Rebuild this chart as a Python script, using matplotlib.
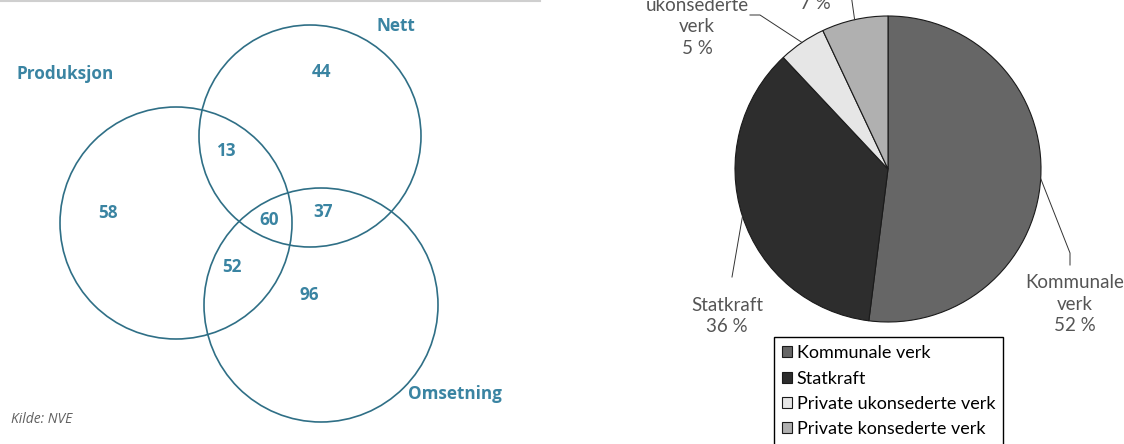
import numpy as np
import matplotlib
matplotlib.use("Agg")
import matplotlib.pyplot as plt
from matplotlib.patches import Circle

# Venn: antall selskaper per kombinasjon av virksomhet
sets = ["Produksjon", "Nett", "Omsetning"]
region_names = ["Produksjon", "Nett", "Omsetning", "Prod+Nett", "Nett+Oms", "Prod+Oms", "Alle"]
region_counts = [58, 44, 96, 13, 37, 52, 60]

# Pie: eierandeler
owners = ["Kommunale verk", "Statkraft", "Private ukonsederte verk", "Private konsederte verk"]
shares = [52, 36, 5, 7]
pie_labels = ["Kommunale\nverk", "Statkraft", "Private\nukonsederte\nverk", "Private\nkonsederte\nverk"]
pie_colors = ["#666666", "#2d2d2d", "#e6e6e6", "#b0b0b0"]

W, H = 1124, 444


def Y(py):
    # pikselkoordinat (fra toppen) -> data-y
    return H - py


fig = plt.figure(figsize=(W / 100, H / 100), dpi=100)
ax = fig.add_axes([0, 0, 1, 1])

# ---------------- Venn ----------------
circle_col = "#2f6f86"
text_col = "#3a84a2"
circles = {"Produksjon": (176, 223, 116), "Nett": (310, 136, 111), "Omsetning": (321, 305, 117)}
for name in sets:
    cx, cy, r = circles[name]
    ax.add_patch(Circle((cx, Y(cy)), r, fill=False, ec=circle_col, lw=1.2))

set_label_pos = {"Produksjon": (16, 74, "left"), "Nett": (377, 26, "left"), "Omsetning": (408, 394, "left")}
for name in sets:
    x, y, ha = set_label_pos[name]
    ax.text(x, Y(y), name, ha=ha, va="center", color=text_col,
            fontsize=12.3, fontweight="bold", family="Open Sans")

region_pos = [(108, 213), (321, 72), (309, 295), (226, 151), (323, 212), (232, 267), (269, 220)]
for cnt, (x, y) in zip(region_counts, region_pos):
    ax.text(x, Y(y), str(cnt), ha="center", va="center", color=text_col,
            fontsize=12.3, fontweight="bold", family="Open Sans")

ax.text(11, Y(419), "Kilde: NVE", ha="left", va="center", color="#606060",
        fontsize=10, style="italic", family="Open Sans")
ax.plot([0, 540], [Y(1), Y(1)], color="#cfcfcf", lw=1.5)

# ---------------- Pie ----------------
pcx, pcy, pr = 888, 169, 153
wedges, _ = ax.pie(shares, colors=pie_colors, startangle=90, counterclock=False,
                   center=(pcx, Y(pcy)), radius=pr,
                   wedgeprops=dict(edgecolor="#1a1a1a", linewidth=0.8))

# label-oppsett: knekkpunkter for ledelinjer og tekstposisjon (piksler)
leader_pts = [
    [(1070, 253), (1070, 265)],
    [(732, 277)],
    [(760, 15), (750, 15)],
    [(849, -20)],
]
label_xy = [(1075, 304), (727, 316), (697, 16), (815, -29)]

lab_font = dict(family="Lato", fontsize=13.5, color="#555555",
                ha="center", va="center", linespacing=1.33)
for w, share, lab, pts, (lx, ly) in zip(wedges, shares, pie_labels, leader_pts, label_xy):
    mid = np.deg2rad((w.theta1 + w.theta2) / 2)
    sx = pcx + pr * np.cos(mid)
    sy = Y(pcy) + pr * np.sin(mid)
    xs = [sx] + [p[0] for p in pts]
    ys = [sy] + [Y(p[1]) for p in pts]
    ax.plot(xs, ys, color="#333333", lw=0.7)
    ax.text(lx, Y(ly), f"{lab}\n{share} %", **lab_font)

leg = ax.legend(wedges, owners, loc="upper left",
                bbox_to_anchor=(774 / W, 1 - 337 / H), bbox_transform=fig.transFigure,
                frameon=True, fancybox=False, edgecolor="black", framealpha=1,
                handlelength=0.55, handleheight=0.55, handletextpad=0.25,
                labelspacing=0.52, borderpad=0.45, borderaxespad=0,
                prop=dict(family="Lato", size=13))
leg.get_frame().set_linewidth(1.0)

ax.set_xlim(0, W)
ax.set_ylim(0, H)
ax.set_aspect("auto")
ax.axis("off")

fig.savefig("out.png", dpi=100)
